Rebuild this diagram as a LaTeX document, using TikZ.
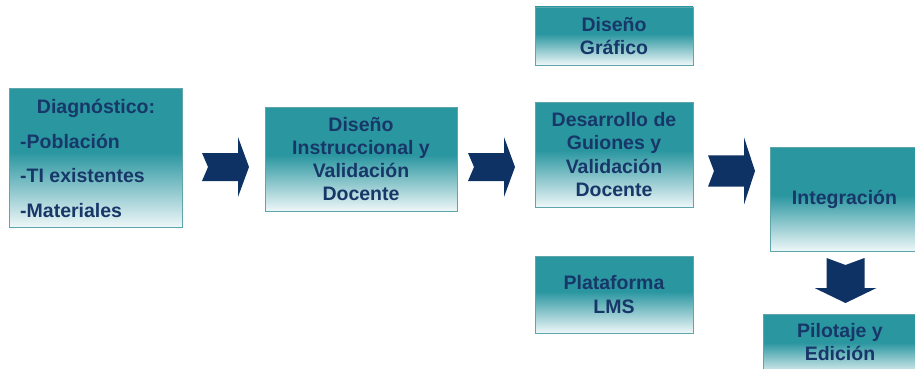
\documentclass[tikz,border=0pt]{standalone}
\usepackage{fontspec}
\setmainfont{Liberation Sans}
\definecolor{tealtop}{RGB}{42,150,160}
\definecolor{fadebot}{RGB}{238,247,248}
\definecolor{boxline}{RGB}{95,165,172}
\definecolor{navytext}{RGB}{24,55,105}
\definecolor{navyarrow}{RGB}{14,50,100}
\pgfdeclareverticalshading{tealfade}{100bp}{color(0bp)=(fadebot); color(25bp)=(fadebot); color(52bp)=(tealtop); color(75bp)=(tealtop); color(100bp)=(tealtop)}
\tikzset{
  box/.style={draw=boxline, line width=0.9pt, shading=tealfade, rectangle, inner sep=0pt,
    text=navytext, align=center, font=\fontsize{19.5}{23.3}\selectfont\bfseries},
  listtext/.style={text=navytext, font=\fontsize{19.5}{23.3}\selectfont\bfseries, inner sep=0pt},
  rarrow/.pic={\fill[navyarrow] (0,-14) -- (36,-14) -- (36,-30) -- (47,0) -- (36,30) -- (36,14) -- (0,14) -- (6,0) -- cycle;},
  darrow/.pic={\fill[navyarrow] (-19,0) -- (0,7) -- (19,0) -- (19,30) -- (31,30) -- (0,45) -- (-31,30) -- (-19,30) -- cycle;}
}
\begin{document}
\begin{tikzpicture}[x=1pt,y=-1pt]
\useasboundingbox (0,0) rectangle (915,369);
\clip (0,0) rectangle (915,369);
\fill[white] (0,0) rectangle (915,369);
% boxes
\node[box, minimum width=173pt, minimum height=139pt] (diag) at (95.5,157.5) {};
\node[listtext, anchor=base] (d1) at (96,113) {Diagnóstico:};
\node[listtext, anchor=base west] (d2) at (20,148) {-Población};
\node[listtext, anchor=base west] (d3) at (20,182) {-TI existentes};
\node[listtext, anchor=base west] (d4) at (20,217) {-Materiales};
\node[box, minimum width=192pt, minimum height=104pt] (dis) at (361,159) {Diseño\\Instruccional y\\Validación\\Docente};
\node[box, minimum width=158pt, minimum height=58pt] (graf) at (614,36) {Diseño\\Gráfico};
\node[box, minimum width=158pt, minimum height=105pt] (des) at (614,154.5) {Desarrollo de\\Guiones y\\Validación\\Docente};
\node[box, minimum width=158pt, minimum height=77pt] (lms) at (614,294.5) {Plataforma\\LMS};
\node[box, minimum width=149pt, minimum height=104pt] (int) at (844.5,199) {Integración};
\node[box, minimum width=156pt, minimum height=62pt] (pil) at (841,345) {};
\node[listtext, align=center, anchor=center] (pt) at (840,342) {Pilotaje y\\Edición};
% block arrows
\pic at (202,167) {rarrow};
\pic at (468,167) {rarrow};
\pic[yscale=1.12] at (708,171) {rarrow};
\pic at (845.5,258) {darrow};
\end{tikzpicture}
\end{document}
